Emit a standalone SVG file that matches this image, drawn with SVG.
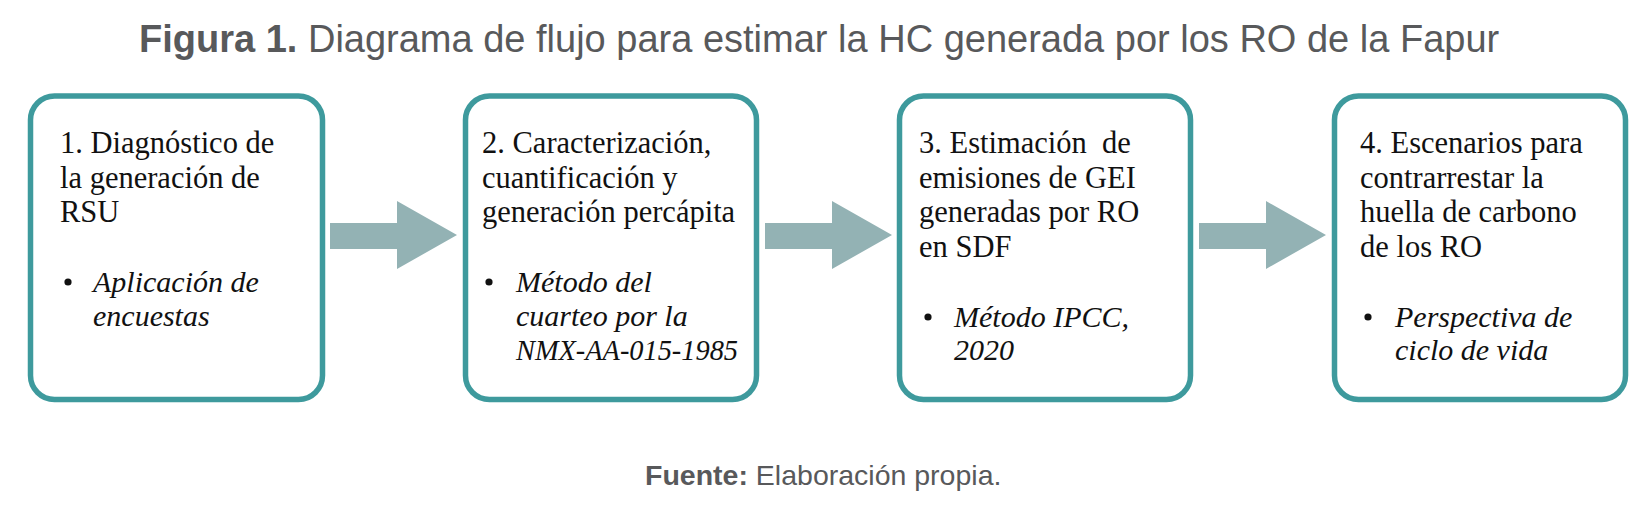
<svg xmlns="http://www.w3.org/2000/svg" width="1650" height="512" viewBox="0 0 1650 512">
<style>
.cap{font-family:"Liberation Sans",Arial,sans-serif;fill:#58595b}
.box{fill:#ffffff;stroke:#3e9a9d;stroke-width:5.5}
.t{font-family:"Liberation Serif","Times New Roman",serif;font-size:30.5px;fill:#111111}
.i{font-family:"Liberation Serif","Times New Roman",serif;font-size:30px;font-style:italic;fill:#111111}
.arrow{fill:#93b2b4}
</style>
<rect width="1650" height="512" fill="#ffffff"/>
<text class="cap" x="139" y="52" font-size="38"><tspan font-weight="bold">Figura 1.</tspan> Diagrama de flujo para estimar la HC generada por los RO de la Fapur</text>
<g id="connectors">
<polygon class="arrow" points="330,223 397,223 397,201 457,235 397,269 397,249 330,249"/>
<polygon class="arrow" points="765,223 832,223 832,201 892,235 832,269 832,249 765,249"/>
<polygon class="arrow" points="1199,223 1266,223 1266,201 1326,235 1266,269 1266,249 1199,249"/>
</g>
<g id="node1">
<rect class="box" x="30.5" y="96" width="292" height="303.5" rx="24"/>
<text class="t" x="60" y="153">1. Diagnóstico de</text>
<text class="t" x="60" y="187.5">la generación de</text>
<text class="t" x="60" y="222">RSU</text>
<circle cx="68" cy="282" r="3.6" fill="#111"/>
<text class="i" x="93" y="292">Aplicación de</text>
<text class="i" x="93" y="326">encuestas</text>
</g>
<g id="node2">
<rect class="box" x="465.5" y="96" width="291" height="303.5" rx="24"/>
<text class="t" x="482" y="153">2. Caracterización,</text>
<text class="t" x="482" y="187.5">cuantificación y</text>
<text class="t" x="482" y="222">generación percápita</text>
<circle cx="489" cy="282" r="3.6" fill="#111"/>
<text class="i" x="516" y="292">Método del</text>
<text class="i" x="516" y="326">cuarteo por la</text>
<text class="i" x="516" y="360" textLength="222" lengthAdjust="spacingAndGlyphs">NMX-AA-015-1985</text>
</g>
<g id="node3">
<rect class="box" x="899.5" y="96" width="291" height="303.5" rx="24"/>
<text class="t" x="919" y="153" xml:space="preserve">3. Estimación  de</text>
<text class="t" x="919" y="187.5">emisiones de GEI</text>
<text class="t" x="919" y="222">generadas por RO</text>
<text class="t" x="919" y="257">en SDF</text>
<circle cx="928" cy="317" r="3.6" fill="#111"/>
<text class="i" x="954" y="327">Método IPCC,</text>
<text class="i" x="954" y="360">2020</text>
</g>
<g id="node4">
<rect class="box" x="1334.5" y="96" width="291" height="303.5" rx="24"/>
<text class="t" x="1360" y="153">4. Escenarios para</text>
<text class="t" x="1360" y="187.5">contrarrestar la</text>
<text class="t" x="1360" y="222">huella de carbono</text>
<text class="t" x="1360" y="257">de los RO</text>
<circle cx="1368" cy="317" r="3.6" fill="#111"/>
<text class="i" x="1395" y="327">Perspectiva de</text>
<text class="i" x="1395" y="360">ciclo de vida</text>
</g>
<text class="cap" x="645" y="485" font-size="28.5"><tspan font-weight="bold">Fuente:</tspan> Elaboración propia.</text>
</svg>
